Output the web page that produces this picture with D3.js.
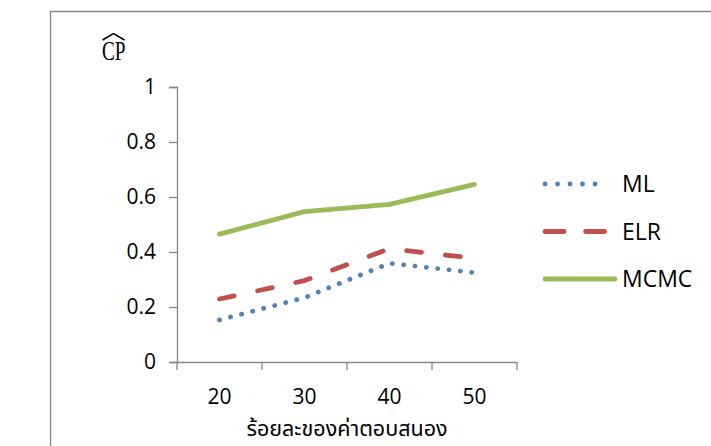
<!DOCTYPE html>
<html>
<head>
<meta charset="utf-8">
<script src="https://cdn.jsdelivr.net/npm/d3@7"></script>
<style>
  body { margin: 0; background: #fff; }
  svg text { font-family: "Open Sans", "Noto Sans", sans-serif; fill: #000; }
</style>
</head>
<body>
<svg id="chart" width="711" height="446"></svg>
<script>
// categories and series
var categories = ["20", "30", "40", "50"];
var mlValues = [0.153, 0.234, 0.359, 0.325];
var elrValues = [0.229, 0.296, 0.412, 0.377];
var mcmcValues = [0.465, 0.547, 0.573, 0.646];
var yTicks = [0, 0.2, 0.4, 0.6, 0.8, 1];
var seriesNames = ["ML", "ELR", "MCMC"];

var svg = d3.select("#chart");

//chart frame (runs off the right and bottom edge)
svg.append("path")
    .attr("d", "M50.5,446 V11.5 H711")
    .attr("fill", "none")
    .attr("stroke", "#868686")
    .attr("stroke-width", 1.3);

var x = d3.scaleBand().domain(categories).range([177, 517]);
var y = d3.scaleLinear().domain([0, 1]).range([362, 87]);

//y axis
var yAxis = svg.append("g")
    .attr("transform", "translate(177,0)")
    .call(d3.axisLeft(y).tickValues(yTicks).tickSize(8).tickPadding(13)
        .tickFormat(function (d) { return d3.format("")(d); }));

//x axis: ticks sit between categories
var xAxis = svg.append("g")
    .attr("transform", "translate(0,362)")
    .call(d3.axisBottom(x).tickSize(0).tickPadding(27));
xAxis.selectAll(".tickmark").data([0].concat(categories.map(function (c) { return x(c) + x.bandwidth(); })))
    .enter().append("line")
    .attr("x1", function (d, i) { return i === 0 ? 177 : d; })
    .attr("x2", function (d, i) { return i === 0 ? 177 : d; })
    .attr("y1", 0).attr("y2", 8);

[yAxis, xAxis].forEach(function (g) {
    g.select(".domain").attr("stroke", "#868686").attr("stroke-width", 1.3);
    g.selectAll("line").attr("stroke", "#868686").attr("stroke-width", 1.3);
    g.selectAll("text").attr("font-size", 21).attr("fill", "#000")
        .style("font-family", "'Open Sans', sans-serif");
});
xAxis.select(".domain").attr("d", "M169,0.5H517");
yAxis.select(".domain").attr("d", "M-8,87.5H0.5V362");

//series lines
var line = d3.line()
    .x(function (d, i) { return x(categories[i]) + x.bandwidth() / 2; })
    .y(function (d) { return y(d); });

var styles = {
    "ML":   { values: mlValues,   color: "#4F81BD", dash: "0.1,11.3" },
    "ELR":  { values: elrValues,  color: "#C0504D", dash: "15,24" },
    "MCMC": { values: mcmcValues, color: "#9BBB59", dash: null }
};

seriesNames.forEach(function (name) {
    var s = styles[name];
    svg.append("path")
        .datum(s.values)
        .attr("d", line)
        .attr("fill", "none")
        .attr("stroke", s.color)
        .attr("stroke-width", 4.8)
        .attr("stroke-linecap", "round")
        .attr("stroke-linejoin", "round")
        .attr("stroke-dasharray", s.dash);
});

//legend
var legend = svg.append("g").attr("transform", "translate(545,184)");
seriesNames.forEach(function (name, i) {
    var s = styles[name];
    var row = legend.append("g").attr("transform", "translate(0," + (i * 47.5) + ")");
    row.append("line")
        .attr("x1", 0).attr("x2", name === "MCMC" ? 70 : 62)
        .attr("y1", 0).attr("y2", 0)
        .attr("stroke", s.color)
        .attr("stroke-width", 4.8)
        .attr("stroke-linecap", "round")
        .attr("stroke-dasharray", name === "ML" ? "0.1,12.4" : (name === "ELR" ? "19,21.6" : null));
    row.append("text")
        .attr("x", 77).attr("y", 0).attr("dy", "0.36em")
        .attr("font-size", 23)
        .text(name);
});

//axis titles
svg.append("text")
    .attr("x", 347).attr("y", 436)
    .attr("text-anchor", "middle")
    .attr("font-size", 21.5)
    .style("font-family", "'Noto Sans Thai', 'Noto Sans', 'DejaVu Sans', sans-serif")
    .text("ร้อยละของค่าตอบสนอง");

svg.append("text")
    .attr("x", 102).attr("y", 60)
    .attr("font-size", 27)
    .attr("textLength", 23.5)
    .attr("lengthAdjust", "spacingAndGlyphs")
    .style("font-family", "'Liberation Serif', 'DejaVu Serif', serif")
    .text("CP");
//hat over CP
svg.append("path")
    .attr("d", "M102.5,40 L113.5,33.5 L124.5,40")
    .attr("fill", "none")
    .attr("stroke", "#000")
    .attr("stroke-width", 1.5)
    .attr("stroke-linejoin", "miter");
</script>
</body>
</html>
